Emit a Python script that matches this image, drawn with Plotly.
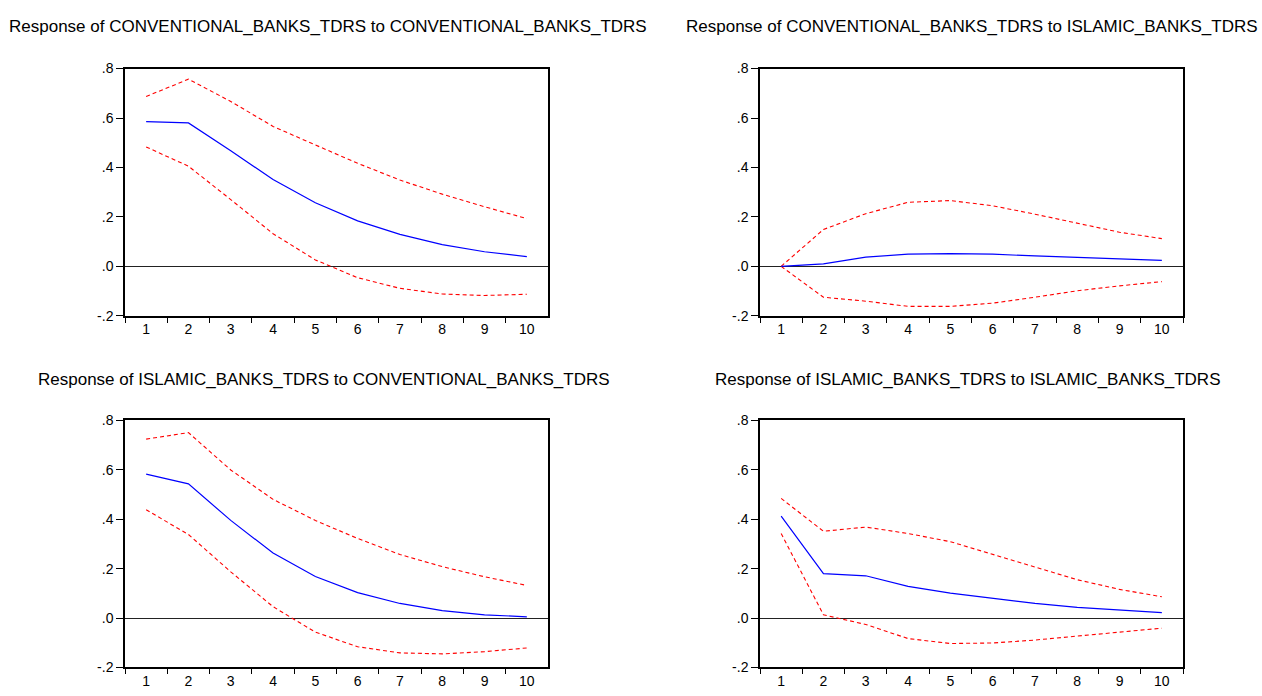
import plotly.graph_objects as go

# Impulse-response horizons
periods = ["1", "2", "3", "4", "5", "6", "7", "8", "9", "10"]

# Response of CONVENTIONAL_BANKS_TDRS to CONVENTIONAL_BANKS_TDRS
conv_conv = [0.585, 0.580, 0.468, 0.351, 0.257, 0.184, 0.129, 0.088, 0.059, 0.039]
conv_conv_hi = [0.687, 0.757, 0.667, 0.566, 0.491, 0.417, 0.349, 0.292, 0.241, 0.193]
conv_conv_lo = [0.483, 0.405, 0.270, 0.132, 0.026, -0.046, -0.089, -0.112, -0.118, -0.113]

# Response of CONVENTIONAL_BANKS_TDRS to ISLAMIC_BANKS_TDRS
conv_isl = [0.000, 0.010, 0.037, 0.049, 0.051, 0.049, 0.042, 0.037, 0.030, 0.024]
conv_isl_hi = [0.000, 0.149, 0.213, 0.259, 0.266, 0.245, 0.211, 0.174, 0.138, 0.112]
conv_isl_lo = [0.000, -0.125, -0.141, -0.162, -0.162, -0.149, -0.125, -0.099, -0.079, -0.062]

# Response of ISLAMIC_BANKS_TDRS to CONVENTIONAL_BANKS_TDRS
isl_conv = [0.582, 0.543, 0.395, 0.263, 0.168, 0.103, 0.059, 0.030, 0.013, 0.005]
isl_conv_hi = [0.724, 0.750, 0.599, 0.480, 0.395, 0.322, 0.257, 0.208, 0.167, 0.132]
isl_conv_lo = [0.438, 0.338, 0.187, 0.046, -0.057, -0.116, -0.141, -0.145, -0.136, -0.121]

# Response of ISLAMIC_BANKS_TDRS to ISLAMIC_BANKS_TDRS
isl_isl = [0.412, 0.180, 0.171, 0.128, 0.101, 0.079, 0.059, 0.043, 0.032, 0.022]
isl_isl_hi = [0.484, 0.351, 0.368, 0.342, 0.309, 0.257, 0.204, 0.155, 0.116, 0.086]
isl_isl_lo = [0.342, 0.013, -0.026, -0.083, -0.103, -0.101, -0.089, -0.072, -0.057, -0.041]

titles = [
    "Response of CONVENTIONAL_BANKS_TDRS to CONVENTIONAL_BANKS_TDRS",
    "Response of CONVENTIONAL_BANKS_TDRS to ISLAMIC_BANKS_TDRS",
    "Response of ISLAMIC_BANKS_TDRS to CONVENTIONAL_BANKS_TDRS",
    "Response of ISLAMIC_BANKS_TDRS to ISLAMIC_BANKS_TDRS",
]

y_ticks = [-0.2, 0.0, 0.2, 0.4, 0.6, 0.8]
y_tick_labels = ["-.2", ".0", ".2", ".4", ".6", ".8"]

W, H = 1262, 696
panels = [
    # (response, upper band, lower band, left, right, top, bottom, title x-centre, title y)
    (conv_conv, conv_conv_hi, conv_conv_lo, 125, 548, 62, 315, 328, 19),
    (conv_isl, conv_isl_hi, conv_isl_lo, 760, 1183, 62, 315, 972, 19),
    (isl_conv, isl_conv_hi, isl_conv_lo, 125, 548, 422, 675, 324, 380),
    (isl_isl, isl_isl_hi, isl_isl_lo, 760, 1183, 422, 675, 967, 380),
]

FONT = "Liberation Sans, Arial, sans-serif"
fig = go.Figure()
layout = {}
annotations = []

for i, (resp, hi, lo, x0, x1, y0, y1, tx, ty) in enumerate(panels, start=1):
    xa = "x" if i == 1 else f"x{i}"
    ya = "y" if i == 1 else f"y{i}"
    for vals, color, dash, width in ((hi, "#FF0000", "4px,3px", 1.1),
                                     (lo, "#FF0000", "4px,3px", 1.1),
                                     (resp, "#0000FF", "solid", 1.2)):
        fig.add_trace(go.Scatter(x=periods, y=vals, mode="lines",
                                 line=dict(color=color, dash=dash, width=width),
                                 xaxis=xa, yaxis=ya, showlegend=False,
                                 hoverinfo="skip"))
    layout["xaxis" if i == 1 else f"xaxis{i}"] = dict(
        domain=[x0 / W, x1 / W], anchor=ya, type="category",
        categoryorder="array", categoryarray=periods,
        range=[-0.5, 9.5], tickson="boundaries", ticks="outside",
        ticklen=5, tickwidth=1, tickcolor="black",
        showline=True, linecolor="black", linewidth=1.5, mirror=True,
        showgrid=False, zeroline=False,
        tickfont=dict(family=FONT, size=14, color="black"),
    )
    layout["yaxis" if i == 1 else f"yaxis{i}"] = dict(
        domain=[1 - y1 / H, 1 - y0 / H], anchor=xa,
        range=[-0.2, 0.8], tickvals=y_ticks, ticktext=y_tick_labels,
        ticks="outside", ticklen=7, tickwidth=1, tickcolor="black",
        showline=True, linecolor="black", linewidth=1.5, mirror=True,
        showgrid=False, zeroline=True, zerolinecolor="#222222",
        zerolinewidth=1,
        tickfont=dict(family=FONT, size=14, color="black"),
    )
    annotations.append(dict(
        text=titles[i - 1], xref="paper", yref="paper",
        x=tx / W, y=1 - ty / H, xanchor="center", yanchor="middle",
        showarrow=False, font=dict(family=FONT, size=17, color="black"),
    ))

fig.update_layout(
    width=W, height=H,
    margin=dict(l=0, r=0, t=0, b=0),
    paper_bgcolor="white", plot_bgcolor="white",
    annotations=annotations,
    **layout,
)

fig.write_html("out.html", config={"displayModeBar": False})
